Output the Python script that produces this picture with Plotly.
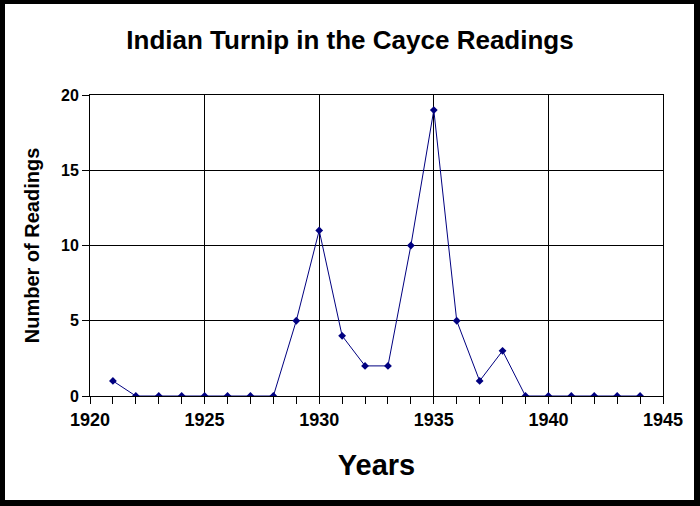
import plotly.graph_objects as go

years = [1921, 1922, 1923, 1924, 1925, 1926, 1927, 1928, 1929, 1930, 1931, 1932,
         1933, 1934, 1935, 1936, 1937, 1938, 1939, 1940, 1941, 1942, 1943, 1944]
readings = [1, 0, 0, 0, 0, 0, 0, 0, 5, 11, 4, 2,
            2, 10, 19, 5, 1, 3, 0, 0, 0, 0, 0, 0]

title_text = "Indian Turnip in the Cayce Readings"
x_title = "Years"
y_title = "Number of Readings"

navy = "#000080"
font = "Liberation Sans, Arial, sans-serif"

W, H = 700, 506
L, R, T, B = 90, 37, 95, 110
pw, ph = W - L - R, H - T - B

def px(x):
    return (x - L) / pw

def py(y):
    return (H - B - y) / ph

fig = go.Figure(go.Scatter(
    x=years, y=readings,
    mode="lines+markers",
    line=dict(color=navy, width=1),
    marker=dict(symbol="diamond", size=6, color=navy),
    showlegend=False,
    hoverinfo="x+y",
))

# white page inside a black frame
fig.add_shape(type="rect", xref="paper", yref="paper", layer="below",
              x0=px(5), x1=px(694), y0=py(500), y1=py(4),
              fillcolor="white", line=dict(width=0))

fig.update_layout(
    width=W, height=H,
    margin=dict(l=L, r=R, t=T, b=B),
    paper_bgcolor="black",
    plot_bgcolor="white",
    font=dict(family=font, color="black"),
    title=dict(text="<b>" + title_text + "</b>", x=0.5, xref="container",
               xanchor="center", y=1 - 40 / H, yanchor="middle",
               font=dict(size=26)),
)

fig.update_xaxes(
    range=[1920, 1945], dtick=5, tick0=1920,
    showgrid=True, gridcolor="black", gridwidth=1,
    showline=True, linecolor="black", linewidth=1, mirror=True,
    ticks="outside", ticklen=7, tickcolor="black", tickwidth=1,
    minor=dict(dtick=1, ticks="outside", ticklen=7, tickcolor="black", showgrid=False),
    tickfont=dict(size=18), tickprefix="<b>", ticksuffix="</b>",
    title=dict(text="<b>" + x_title + "</b>", font=dict(size=29), standoff=26),
    zeroline=False, fixedrange=True,
)

fig.update_yaxes(
    range=[0, 20], dtick=5,
    showgrid=True, gridcolor="black", gridwidth=1,
    showline=True, linecolor="black", linewidth=1, mirror=True,
    ticks="outside", ticklen=7, tickcolor="black", tickwidth=1,
    tickfont=dict(size=16), tickprefix="<b>", ticksuffix="</b>",
    title=dict(text="<b>" + y_title + "</b>", font=dict(size=20), standoff=16),
    zeroline=False, fixedrange=True,
)

fig.write_html("out.html", config={"displayModeBar": False},
               post_script="document.body.style.margin='0';")
